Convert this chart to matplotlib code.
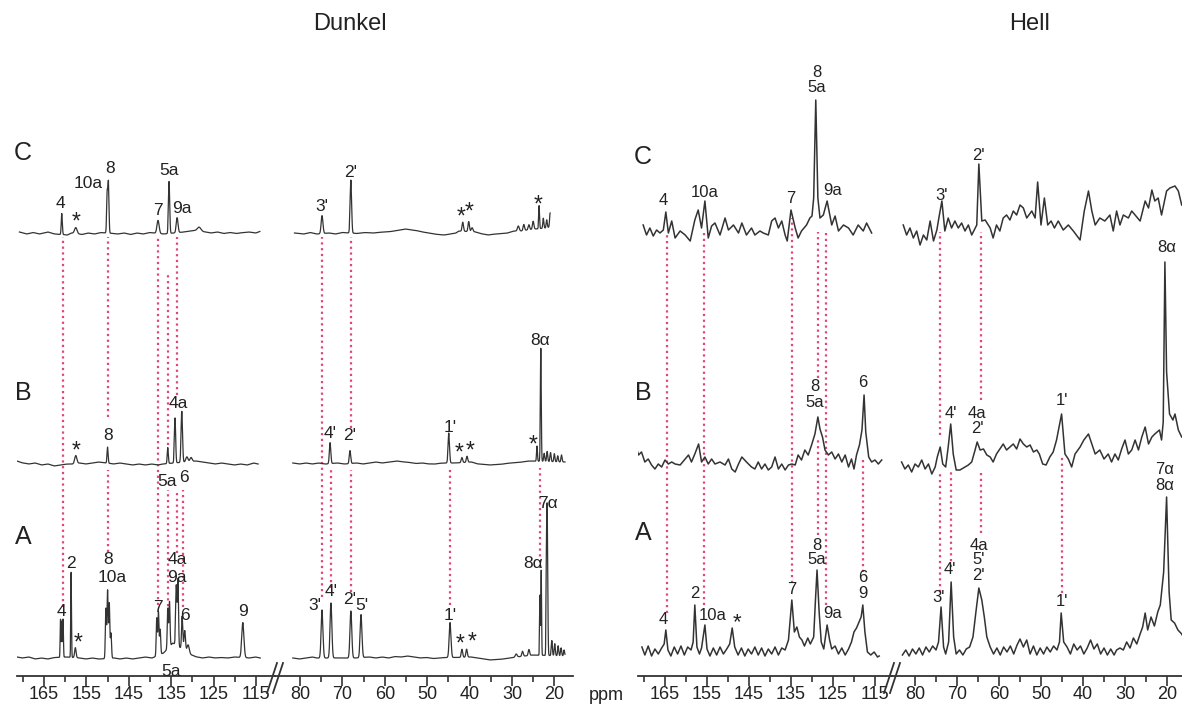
import numpy as np
import matplotlib
matplotlib.use("Agg")
import matplotlib.pyplot as plt
from matplotlib.lines import Line2D

plt.rcParams['font.family'] = ['Liberation Sans', 'DejaVu Sans']

# ------------------------------------------------------------------ data
panel_titles = ["Dunkel", "Hell"]
trace_names = ["C", "B", "A"]
unit_label = "ppm"
major_ticks_arom = [165, 155, 145, 135, 125, 115]
minor_ticks_arom = [170, 160, 150, 140, 130, 120]
major_ticks_aliph = [80, 70, 60, 50, 40, 30, 20]
minor_ticks_aliph = [75, 65, 55, 45, 35, 25]

# ---- Dunkel: peak tables (ppm, intensity, line width ppm) + baseline points (ppm, intensity)
dunkel_C_arom_peaks = [(160.8, 21, 0.3), (157.5, 6, 0.7), (150.1, 40, 0.3), (149.8, 50, 0.3),
                       (138.1, 13, 0.6), (135.5, 52, 0.35), (133.6, 15, 0.5), (128.4, 4, 1.0)]
dunkel_C_arom_base = [(170.8, 1), (169.0, -1), (167.5, 0.5), (166.0, -1), (164.0, 1), (162.5, -1),
                      (159.5, -2), (158.5, 0), (156.0, -1.5), (154.5, 0), (153.0, -1), (151.5, 0.5),
                      (147.5, -1), (146.0, 0), (144.5, -1.5), (143.0, 0), (141.5, -1), (140.0, 0.5),
                      (136.8, -1), (132.0, 1), (130.5, 2), (129.5, 2.5), (127.0, 1), (125.5, 0),
                      (124.0, 1), (122.5, -0.5), (121.0, 0.5), (119.5, -0.5), (118.0, 0.5),
                      (116.5, 1), (115.0, 0), (114.1, 1.5)]
dunkel_C_aliph_peaks = [(74.8, 18, 0.5), (68.0, 53, 0.4), (41.6, 9, 0.4), (40.2, 10, 0.4),
                        (39.4, 4, 0.5), (28.5, 5, 0.5), (27.2, 6, 0.4), (26.0, 5, 0.4), (25.0, 8, 0.4),
                        (23.6, 23, 0.25), (22.6, 10, 0.3), (21.8, 8, 0.3), (21.0, 14, 0.3)]
dunkel_C_aliph_base = [(81.3, 0), (79.0, -1), (77.5, 0.5), (76.0, -1), (73.0, 0), (71.5, -1), (70.0, 0.5),
                       (66.5, -0.5), (64.5, 0.5), (62.5, 0), (60.5, 1), (58.5, 1.5), (56.5, 3), (55.0, 4),
                       (53.5, 3), (52.0, 2), (50.5, 0.5), (49.0, -0.5), (47.5, -1.5), (46.0, -2),
                       (44.5, -1), (43.2, 0), (42.5, 2), (38.5, 1), (37.0, -1), (35.5, -2), (34.0, -1),
                       (32.5, -0.5), (31.0, 0), (29.5, 2), (28.0, 2), (26.5, 3), (24.5, 4), (22.0, 5),
                       (21.0, 6)]
dunkel_B_arom_peaks = [(157.5, 8, 0.6), (150.0, 16, 0.3), (135.8, 16, 0.3), (134.1, 45, 0.35),
                       (132.5, 51, 0.4), (131.3, 5, 0.6), (130.3, 4, 0.6)]
dunkel_B_arom_base = [(171.4, 2), (170.0, 0), (168.5, -1), (167.0, 0), (165.5, -2), (164.0, -1),
                      (162.5, -3), (161.0, -2), (159.5, -1), (158.3, -1), (156.5, 0), (155.0, -1),
                      (153.5, 0), (152.0, 1), (148.5, -1), (147.0, 0), (145.5, -1), (144.0, -2),
                      (142.5, -1), (141.0, -2), (139.5, -1), (138.0, -2), (137.0, -1), (129.0, 2),
                      (127.5, 1), (126.0, 0), (124.5, -1), (123.0, 0), (121.5, -1), (120.0, -2),
                      (118.5, -1), (117.0, -2), (115.5, 0), (114.5, -1)]
dunkel_B_aliph_peaks = [(72.9, 21, 0.4), (68.2, 13, 0.4), (44.9, 30, 0.4), (41.8, 5, 0.4), (40.6, 6, 0.4),
                        (24.1, 15, 0.25), (23.2, 113, 0.25), (22.4, 8, 0.3), (21.7, 10, 0.3),
                        (20.9, 9, 0.3), (20.0, 8, 0.3), (19.2, 6, 0.3), (18.3, 7, 0.3)]
dunkel_B_aliph_base = [(81.7, 0), (80.0, -1), (78.5, 0), (77.0, -1), (75.5, 0), (74.0, -1), (71.0, 0),
                       (69.5, -1), (66.5, 0), (65.0, -1), (63.5, 0), (62.0, 1), (60.5, 0), (59.0, 1),
                       (57.0, 2), (55.5, 1), (54.0, 0.5), (52.5, -0.5), (51.0, 0), (49.5, -1), (48.0, -1),
                       (46.5, 0), (43.5, 0), (39.5, 1), (38.0, -1), (36.5, -1.5), (35.0, -2), (33.5, -1.5),
                       (32.0, -1), (30.5, 0), (29.0, 0.5), (27.5, 1), (26.0, 2), (25.0, 2), (17.5, 1)]
dunkel_A_arom_peaks = [(161.1, 38, 0.2), (160.8, 36, 0.2), (160.5, 38, 0.2), (158.6, 85, 0.2),
                       (157.6, 10, 0.4), (150.4, 50, 0.3), (150.0, 68, 0.3), (149.6, 55, 0.3),
                       (149.2, 25, 0.3), (138.4, 38, 0.3), (138.0, 43, 0.3), (137.6, 25, 0.3),
                       (135.8, 40, 0.3), (135.4, 45, 0.3), (133.8, 60, 0.35), (133.4, 66, 0.3),
                       (132.4, 33, 0.35), (131.8, 20, 0.4), (131.0, 8, 0.6), (118.1, 35, 0.6)]
dunkel_A_arom_base = [(171.4, 1), (170.0, 0), (168.5, 1), (167.0, -1), (165.5, 0), (164.0, -1),
                      (162.5, 0.5), (159.5, 1), (156.5, 0), (155.0, -1), (153.5, 0), (152.0, -1),
                      (148.3, 0), (147.0, -1), (145.5, 0), (144.0, -1), (142.5, 0), (141.0, 1),
                      (139.5, 0), (136.8, 5), (134.6, 15), (130.2, 3), (129.0, 1), (127.5, 0),
                      (126.0, 1), (124.5, 0), (123.0, 0.5), (121.5, 0), (120.0, 1), (116.5, 0),
                      (115.0, 1), (114.0, 0)]
dunkel_A_aliph_peaks = [(74.8, 48, 0.5), (72.7, 55, 0.5), (68.0, 47, 0.5), (65.6, 43, 0.5),
                        (44.6, 35, 0.5), (41.8, 8, 0.4), (40.7, 8, 0.4), (29.0, 3, 0.5), (27.5, 5, 0.4),
                        (26.0, 6, 0.4), (23.4, 60, 0.2), (23.1, 85, 0.2), (21.9, 60, 0.2),
                        (21.7, 148, 0.3), (20.6, 15, 0.3), (19.9, 12, 0.3), (19.1, 10, 0.3),
                        (18.4, 8, 0.3), (17.7, 6, 0.3)]
dunkel_A_aliph_base = [(81.7, 0), (80.0, -1), (78.5, 0), (77.0, 1), (76.0, 0), (70.5, 0), (67.0, 0),
                       (63.5, 1), (62.0, 0), (60.5, 1), (59.0, 0), (57.5, 1.5), (56.0, 1), (54.5, 2),
                       (53.0, 1), (51.5, 0), (50.0, 0.5), (48.5, -0.5), (47.0, 0), (45.8, 0.5),
                       (43.5, 0.5), (39.5, 1), (38.0, 0), (36.5, -1), (35.0, -2), (33.5, -1.5),
                       (32.0, -1), (30.5, 0), (29.0, 1), (27.0, 2), (25.0, 3), (17.5, 2)]

# ---- Hell: traced spectrum points (ppm, intensity)
hell_C_arom = [(170.2, 3), (169.4, -7), (168.6, 0), (167.8, -8), (167.0, -2), (166.2, -5), (165.4, -2),
               (164.8, 16), (164.2, -5), (163.4, 7), (162.6, -10), (161.4, -3), (160.2, -7), (159.0, -13),
               (157.9, 8), (157.1, 18), (156.3, 0), (155.5, 27), (154.7, -10), (153.9, 2), (153.1, 5),
               (151.9, -7), (150.7, 10), (149.9, -2), (148.7, 3), (147.5, -5), (146.7, 5), (145.6, -7),
               (144.4, 0), (143.6, -7), (142.4, -3), (141.6, -5), (140.4, -7), (139.6, 7), (138.8, 10),
               (138.0, 0), (137.2, 7), (136.4, -7), (135.9, -13), (135.0, 18), (134.0, 0), (133.3, -10),
               (132.5, -3), (131.3, 3), (130.5, 10), (130.0, 12), (129.6, 30), (129.1, 128), (128.6, 30),
               (128.1, 10), (127.3, 13), (126.4, 27), (125.3, 3), (124.5, 12), (123.7, -3), (122.5, 3),
               (121.3, 0), (120.2, -7), (119.0, 3), (117.8, -3), (117.0, 5), (115.8, -5)]
hell_C_aliph = [(82.8, 3), (82.0, -7), (81.2, 0), (80.4, -10), (79.6, -3), (78.8, -17), (78.0, -7),
                (77.2, -12), (76.4, 7), (75.6, -13), (74.8, -2), (74.2, 13), (73.6, 27), (72.9, -3),
                (72.1, 10), (71.3, 0), (70.5, 7), (69.7, 0), (68.9, 5), (68.1, -3), (67.3, 3), (66.5, -7),
                (65.3, 3), (64.8, 64), (64.1, 7), (63.3, 8), (62.1, 0), (61.4, -10), (60.6, 3), (59.8, -3),
                (59.0, 10), (58.2, 13), (57.4, 8), (56.6, 17), (55.8, 13), (55.0, 23), (54.2, 20),
                (53.4, 10), (52.2, 17), (51.4, 10), (50.8, 46), (50.0, 3), (49.2, 30), (48.4, 3),
                (47.6, 7), (46.8, 0), (45.9, 7), (44.7, -2), (43.5, 3), (42.3, -3), (40.7, -12),
                (39.7, 17), (38.7, 37), (37.9, 17), (37.1, 3), (36.0, 10), (34.8, 7), (33.6, 13),
                (32.8, -3), (32.0, 17), (31.2, 3), (30.4, 13), (29.2, 10), (28.4, 17), (27.6, 13),
                (26.4, 7), (25.2, 27), (24.4, 20), (23.6, 38), (22.9, 27), (22.1, 30), (21.3, 13),
                (20.1, 37), (19.3, 40), (18.1, 42), (17.3, 37), (16.5, 23)]
hell_B_arom = [(172.1, 18), (171.3, 7), (170.6, 10), (169.8, 0), (169.0, 3), (168.2, -3), (167.4, -7),
               (166.6, -2), (165.8, -5), (165.0, 2), (164.2, -2), (163.4, 0), (162.6, -2), (161.4, -3),
               (160.2, 3), (159.4, 7), (158.7, 0), (157.9, 8), (157.0, 18), (156.3, 0), (155.5, 5),
               (154.7, -2), (153.9, 3), (153.1, -2), (151.9, 0), (150.7, -3), (149.9, 3), (149.1, -7),
               (148.3, -10), (147.5, -2), (146.7, 5), (145.6, 0), (144.4, -5), (143.6, -7), (142.8, 0),
               (142.0, -7), (141.2, -2), (140.4, -8), (139.6, -5), (138.8, 5), (138.0, -7), (137.2, -2),
               (136.4, -8), (135.6, -3), (134.8, -2), (134.0, -3), (133.3, 7), (132.5, 2), (131.7, 12),
               (130.9, 7), (130.1, 17), (129.3, 28), (128.6, 45), (128.1, 33), (127.5, 25), (126.9, 12),
               (126.1, 7), (125.3, 10), (124.5, 3), (123.7, 8), (122.9, 0), (122.1, 7), (121.3, -5),
               (120.6, 3), (120.0, -7), (119.4, 7), (118.7, 17), (118.1, 32), (117.6, 67), (117.2, 30),
               (116.5, 5), (115.8, 0), (115.0, 2), (114.2, -2), (113.4, 2)]
hell_B_aliph = [(83.2, 0), (82.4, -7), (81.6, -3), (80.8, -10), (80.0, -2), (79.2, -5), (78.4, 2),
                (77.6, -7), (76.8, -2), (76.0, -12), (75.2, -5), (74.7, 5), (74.0, 15), (73.4, -2),
                (72.7, -5), (72.1, 15), (71.5, 38), (70.9, 8), (70.2, -8), (69.3, -8), (68.1, -5),
                (67.3, -3), (66.5, 0), (65.7, 12), (65.2, 20), (64.5, 12), (63.7, 13), (62.9, 7),
                (62.1, 5), (61.4, 0), (60.6, 8), (59.8, 13), (59.0, 18), (58.2, 12), (57.4, 15),
                (56.6, 18), (55.8, 13), (55.0, 23), (54.2, 18), (53.4, 15), (52.6, 17), (51.8, 10),
                (51.0, 12), (50.4, 8), (49.6, -2), (48.8, -3), (47.9, 5), (47.1, 10), (46.3, 22),
                (45.1, 48), (44.3, 8), (43.5, 3), (42.7, -5), (41.9, 8), (40.7, 15), (39.8, 22),
                (38.7, 28), (37.9, 18), (37.1, 8), (36.0, 12), (35.0, 3), (34.0, 8), (33.2, 0),
                (32.4, 8), (31.6, 2), (30.8, 13), (30.0, 22), (29.2, 8), (28.4, 12), (27.6, 22),
                (26.8, 12), (26.0, 25), (25.2, 35), (24.4, 18), (23.6, 25), (22.9, 28), (21.8, 32),
                (21.3, 22), (20.9, 40), (20.5, 200), (20.1, 90), (19.4, 48), (18.6, 42), (18.1, 48),
                (17.3, 32), (16.5, 25)]
hell_A_arom = [(170.5, 5), (169.8, -3), (169.0, 6), (168.2, -4), (167.4, 3), (166.6, -2), (165.8, 4),
               (165.2, 8), (164.8, 22), (164.3, 2), (163.6, -4), (162.8, 5), (162.0, -2), (161.2, 6),
               (160.4, -3), (159.6, 5), (158.8, 2), (158.3, 10), (157.9, 47), (157.4, 5), (156.8, -2),
               (156.3, 4), (155.5, 27), (155.0, 3), (154.3, -4), (153.5, 4), (152.7, -3), (151.9, 5),
               (151.1, -2), (150.3, 3), (149.6, 8), (149.0, 24), (148.4, 5), (147.6, -3), (146.8, 4),
               (146.0, -4), (145.2, 3), (144.4, -2), (143.6, 5), (142.8, -3), (142.0, 4), (141.2, -4),
               (140.4, 3), (139.6, -2), (138.8, 5), (138.0, -3), (137.2, 4), (136.4, 2), (135.6, 12),
               (134.8, 52), (134.2, 20), (133.6, 25), (133.0, 15), (132.4, 12), (131.8, 6), (131.0, 14),
               (130.4, 8), (129.6, 15), (129.2, 50), (128.8, 82), (128.3, 40), (127.8, 10), (127.2, 3),
               (126.4, 27), (125.8, 12), (125.3, 3), (124.5, 6), (123.7, -2), (122.9, 4), (122.1, -3),
               (121.3, 3), (120.6, 10), (120.0, 20), (119.4, 24), (118.8, 30), (118.3, 35), (117.9, 47),
               (117.4, 20), (116.8, 0), (116.0, -3), (115.2, 0), (114.4, -5), (114.0, -4)]
hell_A_aliph = [(83.0, -3), (82.2, 2), (81.4, -4), (80.6, 3), (79.8, -2), (79.0, 4), (78.2, -3), (77.4, 5),
                (76.6, 0), (75.8, 6), (75.0, 2), (74.4, 10), (73.8, 45), (73.2, 5), (72.7, -2), (72.0, 10),
                (71.4, 70), (70.8, 15), (70.2, -2), (69.4, 2), (68.6, -3), (67.8, 3), (67.0, 5), (66.2, 15),
                (65.5, 40), (64.8, 64), (64.1, 52), (63.5, 35), (62.9, 15), (62.1, 5), (61.3, -2),
                (60.5, 4), (59.7, -3), (58.9, 5), (58.1, 0), (57.3, 6), (56.5, -2), (55.7, 7), (55.0, 13),
                (54.2, 5), (53.4, 12), (52.6, -2), (51.8, 6), (51.0, -3), (50.2, 4), (49.4, -2), (48.6, 5),
                (47.8, 0), (47.0, 6), (46.2, 2), (45.6, 10), (45.2, 39), (44.6, 10), (43.8, 5), (43.0, -2),
                (42.2, 8), (41.4, 2), (40.6, 6), (39.8, -2), (39.0, 4), (38.2, 12), (37.4, 3), (36.6, 8),
                (35.8, -2), (35.0, 4), (34.2, -3), (33.4, 3), (32.6, -3), (32.0, 2), (31.2, 4), (30.4, 2),
                (29.6, 10), (28.8, 4), (28.0, 14), (27.2, 8), (26.4, 18), (25.8, 25), (25.2, 39),
                (24.6, 22), (23.8, 35), (23.0, 26), (22.2, 40), (21.6, 47), (20.8, 80), (20.1, 155),
                (19.5, 60), (19.0, 32), (18.2, 29), (17.4, 22), (16.5, 18), (15.8, 12)]

# ---- peak assignments (text, ppm, height in panel units)
dunkel_labels_arom = [("4", 161.2, 475), ("*", 157.5, 459), ("10a", 154.6, 495), ("8", 149.4, 510),
                      ("7", 138.1, 468), ("5a", 135.5, 508), ("9a", 132.5, 470),
                      ("*", 157.5, 230), ("8", 149.9, 243), ("4a", 133.4, 275), ("5a", 136.0, 196),
                      ("6", 132.0, 200),
                      ("4", 160.8, 66), ("2", 158.6, 114), ("*", 157.0, 38), ("8", 149.9, 118),
                      ("10a", 149.0, 101), ("7", 138.1, 71), ("4a", 133.6, 118), ("9a", 133.6, 100),
                      ("6", 131.7, 62), ("9", 118.1, 67), ("5a", 135.0, 6)]
dunkel_labels_aliph = [("3'", 74.8, 472), ("2'", 68.0, 506), ("*", 42.0, 464), ("*", 40.1, 469),
                       ("*", 23.9, 476),
                       ("4'", 72.9, 245), ("2'", 68.2, 243), ("1'", 44.6, 251), ("*", 42.5, 228),
                       ("*", 39.9, 230), ("*", 25.0, 236), ("8α", 23.4, 338),
                       ("3'", 76.5, 73), ("4'", 72.7, 86), ("2'", 68.2, 78), ("5'", 65.4, 73),
                       ("1'", 44.6, 63), ("*", 42.3, 37), ("*", 39.4, 39), ("8α", 25.0, 115),
                       ("7α", 21.5, 175)]
hell_labels_arom = [("4", 165.5, 478), ("10a", 155.5, 486), ("7", 135.0, 480), ("8", 128.8, 606),
                    ("5a", 128.8, 591), ("9a", 125.2, 488),
                    ("8", 129.3, 292), ("5a", 129.3, 276), ("6", 117.9, 296),
                    ("4", 165.5, 58), ("2", 157.9, 85), ("10a", 153.6, 63), ("*", 147.9, 58),
                    ("7", 134.8, 88), ("8", 128.8, 133), ("5a", 128.8, 118), ("9a", 125.0, 65),
                    ("6", 117.9, 100), ("9", 117.9, 85)]
hell_labels_aliph = [("3'", 73.6, 483), ("2'", 64.8, 523),
                     ("4'", 71.4, 265), ("4a", 65.2, 265), ("2'", 65.2, 250), ("1'", 45.0, 278),
                     ("8α", 20.0, 431),
                     ("3'", 74.5, 81), ("4'", 71.7, 108), ("4a", 64.8, 133), ("5'", 64.8, 118),
                     ("2'", 64.8, 103), ("1'", 45.0, 76), ("7α", 20.5, 208), ("8α", 20.5, 193)]

# ---- correlation guides (ppm, top, bottom in panel units)
dunkel_guides_arom = [(160.5, 441, 71), (149.9, 441, 261), (149.9, 208, 126), (138.1, 441, 73),
                      (135.8, 405, 233), (135.8, 188, 66), (133.6, 441, 283), (133.6, 188, 125),
                      (132.2, 188, 71)]
dunkel_guides_aliph = [(74.8, 441, 81), (68.0, 441, 250), (68.0, 208, 86), (72.7, 211, 90),
                       (44.6, 210, 73), (23.4, 210, 110)]
hell_guides_arom = [(164.5, 445, 65), (155.7, 445, 73), (134.8, 460, 95), (128.6, 446, 300),
                    (128.6, 238, 143), (126.7, 446, 73), (117.9, 218, 106)]
hell_guides_aliph = [(74.0, 446, 243), (74.0, 206, 86), (71.4, 206, 111), (64.3, 446, 278),
                     (64.3, 208, 145), (45.0, 221, 85)]

# ------------------------------------------------------------------ layout
W, H = 1182, 705
ZERO_PX = 678          # pixel row of intensity zero
AX_BOTTOM, AX_TOP = 676, 40
LINE = '#333333'
GUIDE = '#e2457c'
TXT = '#222222'

fig = plt.figure(figsize=(W / 100, H / 100), dpi=100)


def make_axes(x0, x1, ppm_l, ppm_r, majors, minors):
    ax = fig.add_axes([x0 / W, (H - AX_BOTTOM) / H, (x1 - x0) / W, (AX_BOTTOM - AX_TOP) / H])
    ax.set_xlim(ppm_l, ppm_r)
    ax.set_ylim(ZERO_PX - AX_BOTTOM, ZERO_PX - AX_TOP)
    ax.patch.set_visible(False)
    for s in ('top', 'left', 'right'):
        ax.spines[s].set_visible(False)
    ax.spines['bottom'].set_linewidth(1.3)
    ax.spines['bottom'].set_color('#333333')
    ax.set_yticks([])
    ax.set_xticks(majors)
    ax.set_xticks(minors, minor=True)
    ax.set_xticklabels([str(t) for t in majors])
    ax.tick_params(axis='x', which='major', direction='out', length=7, width=1.2,
                   labelsize=13, pad=0.5, colors='#333333', labelcolor=TXT)
    ax.tick_params(axis='x', which='minor', direction='out', length=4.5, width=1.2, colors='#333333')
    return ax


def gauss_trace(peaks, base):
    bp = np.array([b[0] for b in base])
    bh = np.array([b[1] for b in base])
    order = np.argsort(bp)
    x = np.linspace(bp.min(), bp.max(), 6000)
    y = np.interp(x, bp[order], bh[order])
    for p, h, w in peaks:
        y = y + h * np.exp(-4 * np.log(2) * ((x - p) / w) ** 2)
    return x, y


def point_trace(pts):
    return np.array([p[0] for p in pts]), np.array([p[1] for p in pts])


def draw_guides(ax, guides):
    for ppm, top, bot in guides:
        ax.plot([ppm, ppm], [bot, top], color=GUIDE, lw=1.6, linestyle=(0, (1.0, 1.6)),
                solid_capstyle='butt', zorder=1)


def draw_labels(ax, labels, size):
    for t, ppm, y in labels:
        if t == '*':
            ax.text(ppm, y - 3, t, ha='center', va='center', fontsize=size + 4, color=TXT, zorder=4)
        else:
            ax.text(ppm, y, t, ha='center', va='center', fontsize=size, color=TXT, zorder=4)


def break_mark(xb):
    for dx in (-3, 3):
        fig.add_artist(Line2D([(xb + dx - 5) / W, (xb + dx + 5) / W],
                              [(H - 693) / H, (H - 663) / H], color='#333333', lw=1.3))


# ---------------- Dunkel panel
offs_d = {"C": 445, "B": 215, "A": 20}
ax1 = make_axes(17, 275, 171.37, 110.52, major_ticks_arom, minor_ticks_arom)
ax2 = make_axes(275, 573, 85.9, 15.61, major_ticks_aliph, minor_ticks_aliph)
d_arom = {"C": (dunkel_C_arom_peaks, dunkel_C_arom_base),
          "B": (dunkel_B_arom_peaks, dunkel_B_arom_base),
          "A": (dunkel_A_arom_peaks, dunkel_A_arom_base)}
d_aliph = {"C": (dunkel_C_aliph_peaks, dunkel_C_aliph_base),
           "B": (dunkel_B_aliph_peaks, dunkel_B_aliph_base),
           "A": (dunkel_A_aliph_peaks, dunkel_A_aliph_base)}
for name in trace_names:
    x, y = gauss_trace(*d_arom[name])
    ax1.plot(x, y + offs_d[name], color=LINE, lw=0.9, zorder=3)
    x, y = gauss_trace(*d_aliph[name])
    ax2.plot(x, y + offs_d[name], color=LINE, lw=0.9, zorder=3)
draw_guides(ax1, dunkel_guides_arom)
draw_guides(ax2, dunkel_guides_aliph)
draw_labels(ax1, dunkel_labels_arom, 12.5)
draw_labels(ax2, dunkel_labels_aliph, 12.5)
break_mark(275)

# ---------------- Hell panel
offs_h = {"C": 450, "B": 216, "A": 26}
ax3 = make_axes(638, 892, 171.43, 110.95, major_ticks_arom, minor_ticks_arom)
ax4 = make_axes(892, 1182, 85.48, 16.43, major_ticks_aliph, minor_ticks_aliph)
h_arom = {"C": hell_C_arom, "B": hell_B_arom, "A": hell_A_arom}
h_aliph = {"C": hell_C_aliph, "B": hell_B_aliph, "A": hell_A_aliph}
for name in trace_names:
    x, y = point_trace(h_arom[name])
    ax3.plot(x, y + offs_h[name], color=LINE, lw=1.1, zorder=3)
    x, y = point_trace(h_aliph[name])
    ax4.plot(x, y + offs_h[name], color=LINE, lw=1.1, zorder=3)
draw_guides(ax3, hell_guides_arom)
draw_guides(ax4, hell_guides_aliph)
draw_labels(ax3, hell_labels_arom, 12)
draw_labels(ax4, hell_labels_aliph, 12)
break_mark(892)

# ---------------- row letters, titles, unit
row_pos_d = {"C": 153, "B": 393, "A": 537}
row_pos_h = {"C": 157, "B": 393, "A": 533}
for name in trace_names:
    fig.text(23 / W, 1 - row_pos_d[name] / H, name, ha='center', va='center', fontsize=18, color=TXT)
    fig.text(643 / W, 1 - row_pos_h[name] / H, name, ha='center', va='center', fontsize=18, color=TXT)
fig.text(350 / W, 1 - 24 / H, panel_titles[0], ha='center', va='center', fontsize=17, color=TXT)
fig.text(1030 / W, 1 - 24 / H, panel_titles[1], ha='center', va='center', fontsize=17, color=TXT)
fig.text(606 / W, 1 - 695 / H, unit_label, ha='center', va='center', fontsize=13, color=TXT)

fig.savefig("out.png", dpi=100, facecolor='white')
